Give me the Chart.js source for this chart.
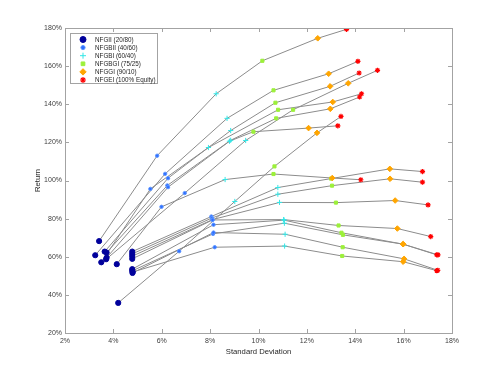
<!DOCTYPE html>
<html>
<head>
<meta charset="utf-8">
<script src="https://cdn.jsdelivr.net/npm/chart.js@4"></script>
<style>
  body { margin: 0; background: #fff; }
</style>
</head>
<body>
<canvas id="riskChart" width="500" height="375"></canvas>
<script>
// one entry per period, same index across all portfolios (risk %, return %)
const nfgiiRisk    = [3.41, 3.25, 3.64, 3.50, 3.72, 3.72, 3.70, 4.20, 4.14, 4.78, 4.78, 4.78, 4.78, 4.78, 4.78, 4.79, 4.80];
const nfgiiReturn  = [68.2, 60.8, 62.7, 57.1, 62.2, 59.5, 58.7, 35.8, 56.1, 62.7, 61.5, 60.3, 58.9, 53.5, 52.6, 51.5, 52.0];
const nfgbiiRisk   = [5.81, 6.14, 6.26, 5.53, 6.23, 6.26, 6.95, 6.72, 5.99, 8.05, 8.07, 8.10, 8.10, 8.14, 8.12, 8.14, 8.19];
const nfgbiiReturn = [113.0, 103.5, 101.2, 95.6, 97.4, 96.5, 93.4, 62.9, 86.2, 81.1, 80.3, 79.5, 79.3, 76.8, 72.0, 72.7, 65.0];
const nfgbiRisk    = [8.25, 8.70, 8.85, 7.93, 8.85, 8.80, 9.47, 9.02, 8.62, 10.80, 10.80, 10.87, 11.04, 11.06, 11.07, 11.10, 11.08];
const nfgbiReturn  = [145.5, 132.6, 126.2, 117.3, 121.1, 120.6, 121.0, 89.0, 100.5, 96.3, 92.8, 88.5, 79.5, 79.2, 77.6, 71.8, 65.6];
const nfgbgiRisk   = [10.16, 10.62, 10.70, 10.81, 10.73, 9.79, 11.43, 10.66, 10.62, 13.00, 13.04, 13.20, 13.31, 13.43, 13.49, 13.48, 13.46];
const nfgbgiReturn = [162.8, 147.3, 140.8, 137.1, 132.6, 125.6, 137.1, 107.4, 103.4, 101.0, 97.3, 88.4, 76.4, 72.6, 71.5, 65.0, 60.4];
const nfggiRisk    = [12.45, 12.90, 12.96, 13.07, 12.97, 12.07, 13.71, 12.42, 13.05, 15.43, 15.44, 15.65, 15.74, 15.98, 15.98, 16.02, 15.98];
const nfggiReturn  = [174.6, 156.0, 149.4, 141.2, 137.6, 127.5, 151.0, 125.0, 101.3, 106.1, 100.9, 89.5, 74.8, 66.6, 66.6, 58.9, 57.4];
const nfgeiRisk    = [13.64, 14.11, 14.16, 14.26, 14.18, 13.28, 14.92, 13.41, 14.23, 16.78, 16.78, 17.01, 17.12, 17.37, 17.42, 17.41, 17.37];
const nfgeiReturn  = [179.3, 162.5, 156.4, 145.5, 143.8, 128.7, 157.8, 133.6, 100.4, 104.7, 99.1, 87.2, 70.6, 61.0, 61.0, 52.9, 52.7];

const xTicks = [2, 4, 6, 8, 10, 12, 14, 16, 18];
const yTicks = [20, 40, 60, 80, 100, 120, 140, 160, 180];

const portfolios = [
    {label: 'NFGII (20/80)',       risk: nfgiiRisk,  ret: nfgiiReturn,  style: 'circle',  r: 2.6, fill: '#00009b', line: '#00009b', bw: 1},
    {label: 'NFGBII (40/60)',      risk: nfgbiiRisk, ret: nfgbiiReturn, style: 'circle',  r: 1.7, fill: '#2f6fff', line: '#5c95ff', bw: 1},
    {label: 'NFGBI (60/40)',       risk: nfgbiRisk,  ret: nfgbiReturn,  style: 'cross',   r: 2.6, fill: '#33e6e6', line: '#33e6e6', bw: 1},
    {label: 'NFGBGI (75/25)',      risk: nfgbgiRisk, ret: nfgbgiReturn, style: 'rect',    r: 2.2, fill: '#9cf03a', line: '#9cf03a', bw: 1},
    {label: 'NFGGI (90/10)',       risk: nfggiRisk,  ret: nfggiReturn,  style: 'rectRot', r: 2.8, fill: '#ffa500', line: '#ffa500', bw: 1},
    {label: 'NFGEI (100% Equity)', risk: nfgeiRisk,  ret: nfgeiReturn,  style: 'star',    r: 2.6, fill: '#ff0000', line: '#ff0000', bw: 1.2},
];

const pts = (xs, ys) => xs.map((x, i) => ({x: x, y: ys[i]}));

let datasets = portfolios.map((p, k) => ({
    label: p.label,
    data: pts(p.risk, p.ret),
    pointStyle: p.style,
    pointRadius: p.r,
    backgroundColor: p.fill,
    borderColor: p.line,
    pointBorderWidth: p.bw,
    showLine: false,
    order: portfolios.length - k
}));

//the grey path of each period through the six portfolios
for (let i = 0; i < nfgiiRisk.length; i++) {
    datasets.push({
        label: 'path' + i,
        data: portfolios.map(p => ({x: p.risk[i], y: p.ret[i]})),
        showLine: true,
        borderColor: '#8c8c8c',
        borderWidth: 1,
        pointRadius: 0,
        order: 20
    });
}

const axisColor = '#a3a3a3';

const axesBox = {
    id: 'axesBox',
    afterDatasetsDraw(chart) {
        const {ctx, chartArea: a, scales} = chart;
        ctx.save();
        ctx.strokeStyle = axisColor;
        ctx.lineWidth = 1;
        ctx.strokeRect(a.left + 0.5, a.top + 0.5, a.right - a.left, a.bottom - a.top);
        ctx.beginPath();
        xTicks.forEach(v => {
            const px = Math.round(scales.x.getPixelForValue(v)) + 0.5;
            ctx.moveTo(px, a.bottom); ctx.lineTo(px, a.bottom - 4);
            ctx.moveTo(px, a.top); ctx.lineTo(px, a.top + 4);
        });
        yTicks.forEach(v => {
            const py = Math.round(scales.y.getPixelForValue(v)) + 0.5;
            ctx.moveTo(a.left, py); ctx.lineTo(a.left + 4, py);
            ctx.moveTo(a.right, py); ctx.lineTo(a.right - 4, py);
        });
        ctx.stroke();
        ctx.restore();
    },
    afterDraw(chart) {
        //legend box in the top left corner, like the original
        const {ctx, chartArea: a} = chart;
        const bx = a.left + 5.5, by = a.top + 5.5;
        ctx.save();
        ctx.fillStyle = '#fff';
        ctx.fillRect(bx, by, 87, 50);
        ctx.strokeStyle = axisColor;
        ctx.lineWidth = 1;
        ctx.strokeRect(bx, by, 87, 50);
        ctx.font = '6.3px "Liberation Sans", Arial, sans-serif';
        ctx.textBaseline = 'middle';
        portfolios.forEach((p, k) => {
            const y = by + 6 + k * 8.1;
            ctx.fillStyle = p.fill;
            ctx.strokeStyle = p.line;
            ctx.lineWidth = p.bw;
            Chart.helpers.drawPoint(ctx, {pointStyle: p.style, radius: p.r + 0.4, rotation: 0, borderWidth: p.bw}, bx + 12.5, y);
            ctx.fillStyle = '#262626';
            ctx.fillText(p.label, bx + 24.5, y + 0.5);
        });
        ctx.restore();
    }
};

Chart.defaults.font.family = '"Liberation Sans", Arial, sans-serif';
Chart.defaults.color = '#404040';

new Chart(document.getElementById('riskChart'), {
    type: 'scatter',
    data: {datasets: datasets},
    options: {
        responsive: false,
        animation: false,
        devicePixelRatio: 1,
        layout: {padding: {left: 0, top: 28, right: 48, bottom: 0}},
        plugins: {
            legend: {display: false},
            tooltip: {enabled: false}
        },
        scales: {
            x: {
                type: 'linear',
                min: 2,
                max: 18,
                afterFit: (s) => { s.height = 42; },
                afterBuildTicks: (s) => { s.ticks = xTicks.map(v => ({value: v})); },
                grid: {display: false, drawTicks: false},
                border: {display: false},
                ticks: {
                    font: {size: 7},
                    padding: 4,
                    maxRotation: 0,
                    callback: (v) => v + '%'
                },
                title: {display: true, text: 'Standard Deviation', font: {size: 7.7}, color: '#262626', padding: {top: 0, bottom: 18}}
            },
            y: {
                type: 'linear',
                min: 20,
                max: 180,
                afterFit: (s) => { s.width = 65; },
                afterBuildTicks: (s) => { s.ticks = yTicks.map(v => ({value: v})); },
                grid: {display: false, drawTicks: false},
                border: {display: false},
                ticks: {
                    font: {size: 7},
                    padding: 3,
                    callback: (v) => v + '%'
                },
                title: {display: true, text: 'Return', font: {size: 7.7}, color: '#262626', padding: {top: 33, bottom: 0}}
            }
        }
    },
    plugins: [axesBox]
});
</script>
</body>
</html>
